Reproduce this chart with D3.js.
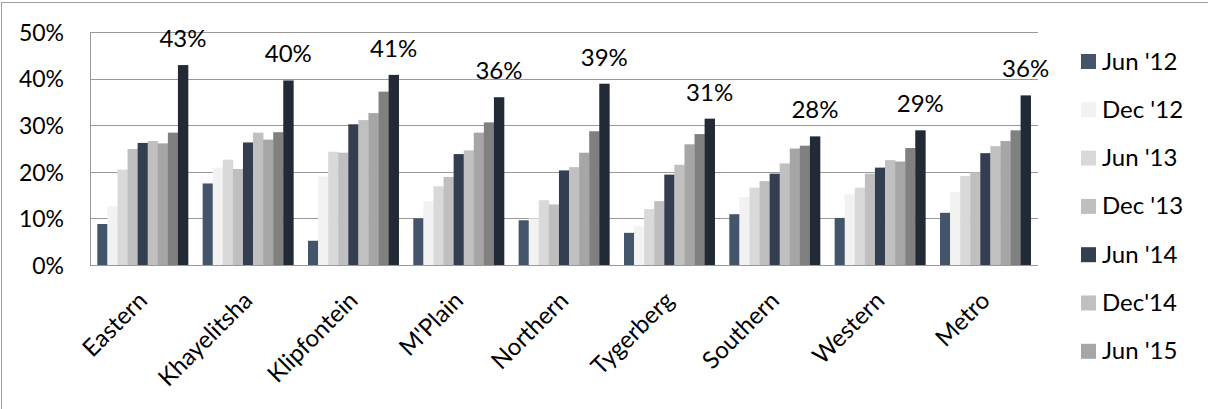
<!DOCTYPE html>
<html>
<head>
<meta charset="utf-8">
<script src="https://cdn.jsdelivr.net/npm/d3@7/dist/d3.min.js"></script>
<style>
  html, body { margin: 0; padding: 0; background: #fff; }
  svg text { font-family: Lato, "Open Sans", "Liberation Sans", sans-serif; fill: #000; }
</style>
</head>
<body>
<svg id="chart" width="1208" height="409"></svg>
<script>
// Districts along the x axis
const categories = ["Eastern", "Khayelitsha", "Klipfontein", "M'Plain", "Northern",
                    "Tygerberg", "Southern", "Western", "Metro"];

// Survey rounds, one bar per round inside each district group
const seriesNames = ["Jun '12", "Dec '12", "Jun '13", "Dec '13", "Jun '14",
                     "Dec'14", "Jun '15", "Dec '15", "Jun '16"];

// Percentages per round (same order as categories)
const jun12 = [8.8, 17.5, 5.2, 10.0, 9.6, 6.9, 10.9, 10.1, 11.2];
const dec12 = [12.6, 20.9, 19.0, 13.7, 10.0, 8.3, 14.6, 15.2, 15.7];
const jun13 = [20.5, 22.6, 24.3, 16.9, 13.9, 12.0, 16.6, 16.6, 19.1];
const dec13 = [24.9, 20.6, 24.1, 18.9, 13.0, 13.7, 18.0, 19.6, 19.9];
const jun14 = [26.2, 26.3, 30.2, 23.8, 20.3, 19.4, 19.6, 20.9, 24.0];
const dec14 = [26.6, 28.4, 31.1, 24.6, 21.0, 21.5, 21.8, 22.5, 25.5];
const jun15 = [26.1, 26.9, 32.6, 28.4, 24.1, 25.9, 25.0, 22.2, 26.6];
const dec15 = [28.4, 28.5, 37.2, 30.6, 28.7, 28.1, 25.6, 25.1, 28.9];
const jun16 = [42.9, 39.6, 40.8, 36.0, 38.9, 31.4, 27.6, 28.9, 36.4];

const seriesValues = [jun12, dec12, jun13, dec13, jun14, dec14, jun15, dec15, jun16];

// Value-axis ticks
const yTicks = [0, 10, 20, 30, 40, 50];

// Fill per round
const colors = ["#44546a", "#f2f2f2", "#d9d9d9", "#bfbfbf", "#333f50",
                "#c0c0c0", "#a6a6a6", "#808080", "#222a35"];

const labelledSeries = seriesValues.length - 1; // only the latest round carries labels

const svg = d3.select("#chart");
const W = 1208, H = 409;

// chart frame
svg.append("rect")
  .attr("x", 1.5).attr("y", 2.5)
  .attr("width", W + 10).attr("height", H + 10)
  .attr("fill", "#fff").attr("stroke", "#a0a0a0").attr("stroke-width", 1);

const plot = { left: 90, right: 1038, top: 32, bottom: 265 };

const x = d3.scaleBand()
  .domain(categories)
  .range([plot.left, plot.right])
  .paddingInner(0.139)
  .paddingOuter(0.0695);

const xs = d3.scaleBand()
  .domain(d3.range(seriesNames.length))
  .range([0, x.bandwidth()])
  .padding(0);

const y = d3.scaleLinear()
  .domain([0, 50])
  .range([plot.bottom, plot.top]);

// gridlines
svg.append("g")
  .selectAll("line")
  .data(yTicks.filter(t => t > 0))
  .join("line")
  .attr("x1", plot.left).attr("x2", plot.right)
  .attr("y1", d => Math.round(y(d)) + 0.5).attr("y2", d => Math.round(y(d)) + 0.5)
  .attr("stroke", "#999").attr("stroke-width", 1);

// y axis labels
const yAxis = d3.axisLeft(y)
  .tickValues(yTicks)
  .tickFormat(d => d + "%")
  .tickSize(0)
  .tickPadding(26);
const yg = svg.append("g")
  .attr("transform", `translate(${plot.left},0)`)
  .call(yAxis);
yg.select(".domain").remove();
yg.selectAll("text")
  .style("font-size", "23px")
  .attr("dy", "0.36em");

// bars
const groups = svg.append("g")
  .selectAll("g")
  .data(seriesValues)
  .join("g")
  .attr("fill", (d, i) => colors[i]);

groups.selectAll("rect")
  .data((vals, si) => vals.map((v, ci) => ({ v, si, ci })))
  .join("rect")
  .attr("x", d => x(categories[d.ci]) + xs(d.si))
  .attr("y", d => y(d.v))
  .attr("width", xs.bandwidth() + 0.3)
  .attr("height", d => y(0) - y(d.v));

// axis lines
svg.append("line")
  .attr("x1", plot.left + 0.5).attr("x2", plot.left + 0.5)
  .attr("y1", plot.top).attr("y2", plot.bottom)
  .attr("stroke", "#999");
svg.append("line")
  .attr("x1", plot.left).attr("x2", plot.right)
  .attr("y1", plot.bottom + 0.5).attr("y2", plot.bottom + 0.5)
  .attr("stroke", "#999");

// data labels for the latest round
svg.append("g")
  .selectAll("text")
  .data(seriesValues[labelledSeries].map((v, ci) => ({ v, ci })))
  .join("text")
  .attr("x", d => x(categories[d.ci]) + xs(labelledSeries) + xs.bandwidth() / 2)
  .attr("y", d => y(d.v) - 18)
  .attr("text-anchor", "middle")
  .style("font-size", "24px")
  .text(d => Math.round(d.v) + "%");

// category labels, rotated
const xAxis = d3.axisBottom(x).tickSize(0).tickPadding(0);
const xg = svg.append("g")
  .attr("transform", `translate(0,${plot.bottom})`)
  .call(xAxis);
xg.select(".domain").remove();
xg.selectAll(".tick text")
  .attr("text-anchor", "end")
  .attr("transform", "translate(6,37) rotate(-45)")
  .attr("y", 0).attr("dy", 0)
  .style("font-size", "24px");

// legend (entries that do not fit inside the frame are dropped)
const legendTop = 54, legendStep = 48.3, key = 15;
const legendItems = seriesNames
  .map((name, i) => ({ name, i }))
  .filter(d => legendTop + d.i * legendStep + key < H - 4);

const lg = svg.append("g")
  .selectAll("g")
  .data(legendItems)
  .join("g")
  .attr("transform", d => `translate(1081,${legendTop + d.i * legendStep})`);
lg.append("rect")
  .attr("width", key).attr("height", key)
  .attr("fill", d => colors[d.i]);
lg.append("text")
  .attr("x", 21).attr("y", 15.5)
  .style("font-size", "24px")
  .text(d => d.name);
</script>
</body>
</html>
